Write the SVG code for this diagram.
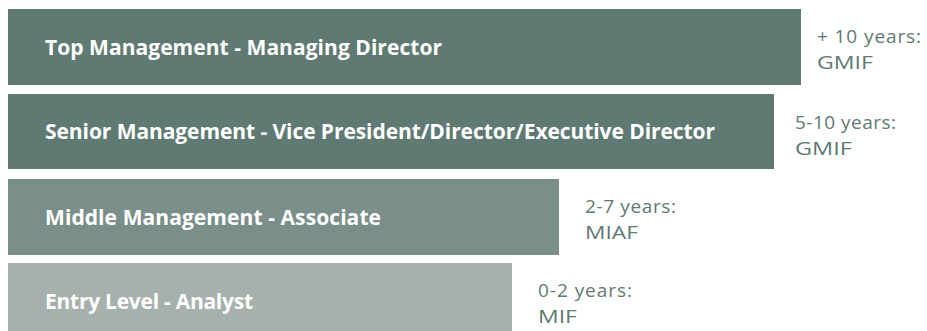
<svg xmlns="http://www.w3.org/2000/svg" width="927" height="331" viewBox="0 0 927 331">
<style>
.lbl{font-family:"Open Sans","Noto Sans","Liberation Sans",sans-serif;font-weight:700;font-size:21px;fill:#ffffff}
.yrs{font-family:"Open Sans","Noto Sans","Liberation Sans",sans-serif;font-weight:400;font-size:19px;fill:#5f7a73}
</style>
<rect width="927" height="331" fill="#ffffff"/>
<g id="top">
<rect x="8" y="9" width="793" height="76" fill="#5f7a73"/>
<text class="lbl" x="45" y="55" textLength="397">Top Management - Managing Director</text>
<text class="yrs" x="817" y="43" textLength="104">+ 10 years:</text>
<text class="yrs" x="817" y="69" textLength="56" lengthAdjust="spacingAndGlyphs">GMIF</text>
</g>
<g id="senior">
<rect x="8" y="94" width="766" height="75" fill="#5f7a73"/>
<text class="lbl" x="45" y="139" textLength="670">Senior Management - Vice President/Director/Executive Director</text>
<text class="yrs" x="795" y="129" textLength="101">5-10 years:</text>
<text class="yrs" x="795" y="155" textLength="57" lengthAdjust="spacingAndGlyphs">GMIF</text>
</g>
<g id="middle">
<rect x="8" y="179" width="551" height="76" fill="#7a8f8a"/>
<text class="lbl" x="45" y="225" textLength="336">Middle Management - Associate</text>
<text class="yrs" x="585" y="213" textLength="91">2-7 years:</text>
<text class="yrs" x="585" y="239" textLength="53" lengthAdjust="spacingAndGlyphs">MIAF</text>
</g>
<g id="entry">
<rect x="8" y="263" width="504" height="76" fill="#a6b0ad"/>
<text class="lbl" x="45" y="309" textLength="208">Entry Level - Analyst</text>
<text class="yrs" x="538" y="297" textLength="94">0-2 years:</text>
<text class="yrs" x="538" y="323" textLength="39" lengthAdjust="spacingAndGlyphs">MIF</text>
</g>
<g id="connectors"></g>
</svg>
